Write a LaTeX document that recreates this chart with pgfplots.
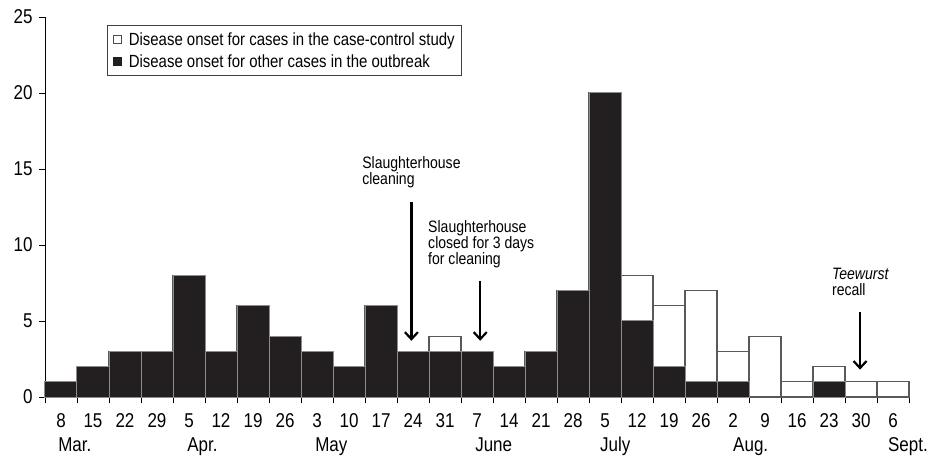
\documentclass[border=0pt]{standalone}
\usepackage{fontspec}
\setmainfont[FakeStretch=0.85]{Liberation Sans}
\usepackage{pgfplots}
\pgfplotsset{compat=1.18}
\usetikzlibrary{arrows.meta}
\definecolor{barblack}{HTML}{231F20}
\pgfplotsset{sqlegend/.style={legend image code/.code={\draw[##1] (4pt,-4pt) rectangle (12pt,4pt); \path (17pt,0pt);}}}
\tikzset{monthlab/.style={anchor=base west, inner sep=0pt, font=\fontsize{20}{22}\selectfont, yshift=-54pt}}
\begin{document}
\begin{tikzpicture}
\begin{axis}[
 scale only axis, width=864pt, height=380pt,
 xmin=-0.5, xmax=26.5, ymin=0, ymax=25,
 ybar, bar width=32pt, bar shift=0pt,
 axis x line*=bottom, axis y line*=left,
 axis line style={line width=0.8pt, black},
 tick align=outside, major tick length=6pt,
 tick style={line width=0.8pt, black},
 xtick={-0.5,0.5,...,26.5},
 x tick label as interval,
 xticklabels={8,15,22,29,5,12,19,26,3,10,17,24,31,7,14,21,28,5,12,19,26,2,9,16,23,30,6},
 ytick={0,5,...,25},
 ticklabel style={font=\fontsize{20}{22}\selectfont},
 xticklabel style={anchor=base, yshift=-24pt},
 yticklabel style={xshift=-3pt},
 /pgf/number format/assume math mode=true,
 legend style={at={(0.072,0.979)}, anchor=north west, draw=black!75, line width=0.8pt,
   font=\fontsize{17.6}{19}\selectfont, row sep=4pt, inner xsep=5pt, inner ysep=5pt},
 legend cell align=left,
 clip=false,
]
\addlegendimage{sqlegend, fill=white, draw=black!70, line width=1.2pt}
\addlegendentry{Disease onset for cases in the case-control study}
\addlegendimage{sqlegend, fill=barblack, draw=barblack, line width=1pt}
\addlegendentry{Disease onset for other cases in the outbreak}
% totals (white part shows above black)
\addplot[fill=white, draw=black!65, line width=1.2pt, forget plot] coordinates {
 (0,1) (1,2) (2,3) (3,3) (4,8) (5,3) (6,6) (7,4) (8,3) (9,2) (10,6) (11,3) (12,4)
 (13,3) (14,2) (15,3) (16,7) (17,20) (18,8) (19,6) (20,7) (21,3) (22,4) (23,1)
 (24,2) (25,1) (26,1)};
% other cases (black)
\addplot[fill=barblack, draw=black!45, line width=1pt, forget plot] coordinates {
 (0,1) (1,2) (2,3) (3,3) (4,8) (5,3) (6,6) (7,4) (8,3) (9,2) (10,6) (11,3) (12,3)
 (13,3) (14,2) (15,3) (16,7) (17,20) (18,5) (19,2) (20,1) (21,1) (24,1)};
% month labels
\node[monthlab] at (axis cs:-0.09,0) {Mar.};
\node[monthlab] at (axis cs:3.94,0) {Apr.};
\node[monthlab] at (axis cs:7.94,0) {May};
\node[monthlab] at (axis cs:12.94,0) {June};
\node[monthlab] at (axis cs:16.84,0) {July};
\node[monthlab] at (axis cs:21.0,0) {Aug.};
\node[monthlab] at (axis cs:25.84,0) {Sept.};
% annotations
\node[anchor=north west, align=left, inner sep=0pt, font=\fontsize{16.5}{16}\selectfont] at (axis cs:9.41,15.8) {Slaughterhouse\\cleaning};
\draw[line width=2.2pt, -{Straight Barb[length=7pt,width=13pt]}] (axis cs:10.95,12.8) -- (axis cs:10.95,3.7);
\node[anchor=north west, align=left, inner sep=0pt, font=\fontsize{16.5}{16}\selectfont] at (axis cs:11.47,11.6) {Slaughterhouse\\closed for 3 days\\for cleaning};
\draw[line width=2.2pt, -{Straight Barb[length=7pt,width=13pt]}] (axis cs:13.1,7.6) -- (axis cs:13.1,3.7);
\node[anchor=north west, align=left, inner sep=0pt, font=\fontsize{16.5}{16}\selectfont] at (axis cs:24.09,8.5) {\textit{Teewurst}\\recall};
\draw[line width=2.2pt, -{Straight Barb[length=7pt,width=13pt]}] (axis cs:24.97,5.6) -- (axis cs:24.97,1.8);
\end{axis}
\pgfresetboundingbox
\useasboundingbox ([xshift=-45pt,yshift=-60pt]current axis.south west) rectangle ([xshift=24pt,yshift=17pt]current axis.north east);
\end{tikzpicture}
\end{document}
